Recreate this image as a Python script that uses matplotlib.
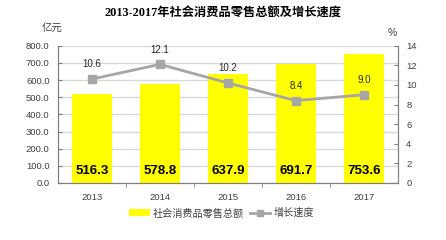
import numpy as np
import matplotlib.pyplot as plt
from matplotlib.lines import Line2D
from matplotlib.patches import Patch

plt.rcParams['font.family'] = ['Liberation Sans', 'Noto Sans CJK SC']

# data
years = ['2013', '2014', '2015', '2016', '2017']
sales = [516.3, 578.8, 637.9, 691.7, 753.6]
growth = [10.6, 12.1, 10.2, 8.4, 9.0]

title = '2013-2017年社会消费品零售总额及增长速度'
bar_name = '社会消费品零售总额'
line_name = '增长速度'

txt = '#404040'
spine_c = '#7f7f7f'

fig = plt.figure(figsize=(4.46, 2.4), dpi=100)
ax = fig.add_axes([0.130, 0.2375, 0.762, 0.572])
x = np.arange(len(years))

ax.bar(x, sales, width=0.58, color='#FFFF00', zorder=2)
for xi, v in zip(x, sales):
    ax.text(xi, 72, '{:.1f}'.format(v), ha='center', va='center',
            fontsize=9.5, fontweight='bold', color='black', zorder=5)

ax.set_ylim(0, 800)
ax.set_yticks(np.arange(0, 801, 100))
ax.set_yticklabels(['{:.1f}'.format(t) for t in np.arange(0, 801, 100)])
ax.set_xlim(-0.5, len(years) - 0.5)
ax.set_xticks(x)
ax.set_xticklabels(years)
ax.set_xticks(np.arange(0.5, len(years) - 1, 1), minor=True)
ax.tick_params(axis='x', which='major', length=0, labelsize=6.8,
               colors=txt, pad=7)
ax.tick_params(axis='x', which='minor', length=3, direction='out',
               color=spine_c)
ax.tick_params(axis='y', length=3, direction='in', labelsize=6.8,
               colors=txt, pad=6)
ax.tick_params(axis='y', color=spine_c)
ax.yaxis.grid(True, color='#d9d9d9', linewidth=1, zorder=0)
ax.set_axisbelow(True)
for s in ['left', 'bottom', 'right']:
    ax.spines[s].set_color(spine_c)
ax.spines['top'].set_visible(False)

ax2 = ax.twinx()
ax2.plot(x, growth, color='#a6a6a6', linewidth=2, marker='s',
         markersize=5.5, zorder=4)
for xi, v in zip(x, growth):
    ax2.annotate('{:.1f}'.format(v), (xi, v), xytext=(0, 7),
                 textcoords='offset points', ha='center', va='bottom',
                 fontsize=7, color='#262626')
ax2.set_ylim(0, 14)
ax2.set_yticks(np.arange(0, 15, 2))
ax2.tick_params(axis='y', length=3, direction='in', labelsize=6.8,
                colors=txt, color=spine_c, pad=6)
for s in ['left', 'bottom', 'right']:
    ax2.spines[s].set_color(spine_c)
ax2.spines['top'].set_visible(False)

fig.text(0.117, 0.879, '亿元', fontsize=7.5, color=txt, ha='center', va='center')
fig.text(0.880, 0.864, '%', fontsize=7.5, color=txt, ha='center', va='center')
fig.text(0.5, 0.942, title, fontsize=8.8, fontweight='bold', color='black',
         ha='center', va='center',
         family=['Liberation Serif', 'Noto Sans CJK SC'])

handles = [Patch(facecolor='#FFFF00', edgecolor='none'),
           Line2D([0], [0], color='#a6a6a6', linewidth=2, marker='s',
                  markersize=5)]
fig.legend(handles, [bar_name, line_name], loc='center',
           bbox_to_anchor=(0.497, 0.112), ncol=2, frameon=False,
           fontsize=7.3, handlelength=2.0, handleheight=0.6,
           columnspacing=0.6, handletextpad=0.3, labelcolor=txt)

fig.savefig('out.png', dpi=100)
